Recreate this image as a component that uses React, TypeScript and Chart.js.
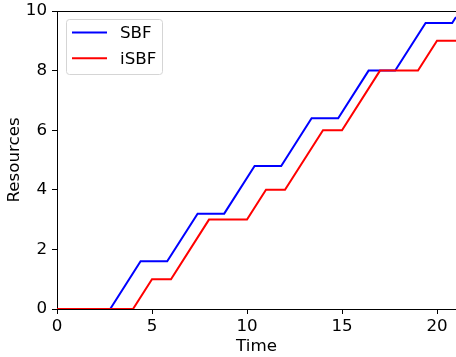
import React, { useEffect, useRef } from 'react';
import { Chart, registerables } from 'chart.js';
Chart.register(...registerables);

const SERIES_NAMES = ['SBF', 'iSBF'];
const SERIES_COLORS = ['#0000ff', '#ff0000'];
const SBF_TIME = [0, 2.8, 4.4, 5.8, 7.4, 8.8, 10.4, 11.8, 13.4, 14.8, 16.4, 17.8, 19.4, 20.8, 21];
const SBF_RES = [0, 0, 1.6, 1.6, 3.2, 3.2, 4.8, 4.8, 6.4, 6.4, 8.0, 8.0, 9.6, 9.6, 9.8];
const ISBF_TIME = [0, 4, 5, 6, 8, 10, 11, 12, 14, 15, 17, 19, 20, 21];
const ISBF_RES = [0, 0, 1, 1, 3, 3, 4, 4, 6, 6, 8, 8, 9, 9];
const X_TICKS = [0, 5, 10, 15, 20];
const Y_TICKS = [0, 2, 4, 6, 8, 10];
const X_TITLE = 'Time';
const Y_TITLE = 'Resources';

const FONT = 'DejaVu Sans';
const FS = 16.7;

const framePlugin = {
  id: 'frame',
  afterDraw(chart: any) {
    const { ctx, chartArea: a } = chart;
    ctx.save();
    ctx.strokeStyle = '#000';
    ctx.lineWidth = 1;
    ctx.beginPath();
    ctx.moveTo(a.left, a.top + 0.5);
    ctx.lineTo(a.right, a.top + 0.5);
    ctx.stroke();

    // legend
    const x0 = 66.5, y0 = 19.5, w = 96, h = 55;
    ctx.beginPath();
    (ctx as any).roundRect(x0, y0, w, h, 3);
    ctx.fillStyle = 'rgba(255,255,255,0.8)';
    ctx.fill();
    ctx.strokeStyle = '#d5d5d5';
    ctx.lineWidth = 1;
    ctx.stroke();
    ctx.font = `${FS}px "${FONT}"`;
    ctx.textBaseline = 'middle';
    ctx.textAlign = 'left';
    chart.data.datasets.forEach((ds: any, i: number) => {
      const y = 32.5 + i * 25.7;
      ctx.strokeStyle = ds.borderColor;
      ctx.lineWidth = 2;
      ctx.beginPath();
      ctx.moveTo(72, y);
      ctx.lineTo(107, y);
      ctx.stroke();
      ctx.fillStyle = '#000';
      ctx.fillText(ds.label, 120, y + 1);
    });
    ctx.restore();
  },
};

export default function App() {
  const ref = useRef<HTMLCanvasElement>(null);
  useEffect(() => {
    document.body.style.margin = '0';
    const toPts = (xs: number[], ys: number[]) => xs.map((x, i) => ({ x, y: ys[i] }));
    const chart = new Chart(ref.current!, {
      type: 'line',
      data: {
        datasets: [
          {
            label: SERIES_NAMES[0],
            data: toPts(SBF_TIME, SBF_RES),
            borderColor: SERIES_COLORS[0],
            borderWidth: 2,
            pointRadius: 0,
            tension: 0,
            order: 1,
          },
          {
            label: SERIES_NAMES[1],
            data: toPts(ISBF_TIME, ISBF_RES),
            borderColor: SERIES_COLORS[1],
            borderWidth: 2,
            pointRadius: 0,
            tension: 0,
            order: 0,
          },
        ],
      },
      options: {
        responsive: false,
        animation: false,
        events: [],
        layout: { padding: { top: 11, right: 0, left: 0, bottom: 0 } },
        plugins: { legend: { display: false }, tooltip: { enabled: false } },
        font: { family: FONT, size: FS },
        scales: {
          x: {
            type: 'linear',
            min: 0,
            max: 21,
            z: 1,
            afterBuildTicks: (s: any) => {
              s.ticks = X_TICKS.map((v) => ({ value: v }));
            },
            afterFit: (s: any) => {
              s.height = 48;
              s.paddingLeft = 0;
              s.paddingRight = 0;
            },
            grid: { drawOnChartArea: false, drawTicks: true, tickLength: 5, color: '#000', tickWidth: 1 },
            border: { display: true, color: '#000', width: 1 },
            ticks: { color: '#000', padding: 3, maxRotation: 0, font: { family: FONT, size: FS } },
            title: { display: true, text: X_TITLE, color: '#000', padding: { top: 0, bottom: 0 }, font: { family: FONT, size: FS } },
          },
          y: {
            type: 'linear',
            min: 0,
            max: 10,
            z: 1,
            afterBuildTicks: (s: any) => {
              s.ticks = Y_TICKS.map((v) => ({ value: v }));
            },
            afterFit: (s: any) => {
              s.width = 57;
              s.paddingTop = 0;
              s.paddingBottom = 0;
            },
            grid: { drawOnChartArea: false, drawTicks: true, tickLength: 5, color: '#000', tickWidth: 1 },
            border: { display: true, color: '#000', width: 1 },
            ticks: { color: '#000', padding: 5, font: { family: FONT, size: FS } },
            title: { display: true, text: Y_TITLE, color: '#000', padding: { top: 5, bottom: 0 }, font: { family: FONT, size: FS } },
          },
        },
      },
      plugins: [framePlugin],
    } as any);
    return () => chart.destroy();
  }, []);
  return (
    <div style={{ position: 'absolute', left: 0, top: 0, width: 456, height: 357 }}>
      <canvas ref={ref} width={456} height={357} />
    </div>
  );
}
